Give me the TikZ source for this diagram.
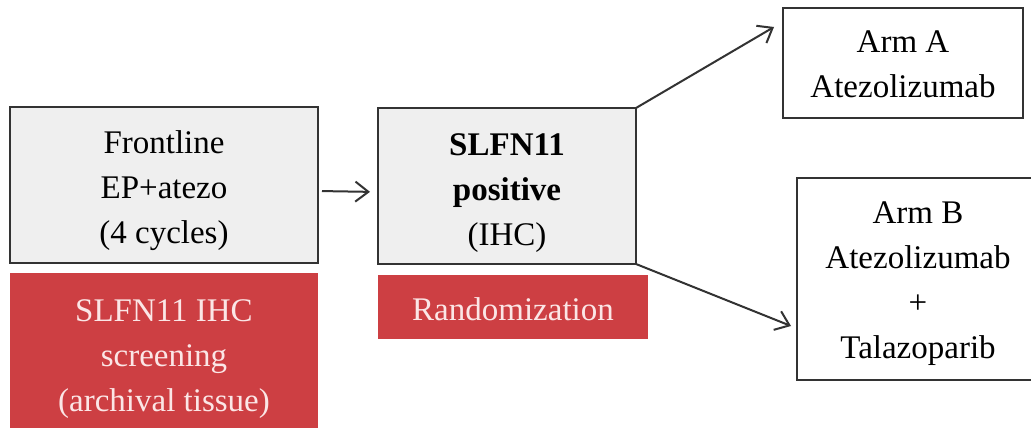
\documentclass[tikz,border=0pt]{standalone}
\usepackage{fontspec}
\setmainfont{Liberation Serif}
\usetikzlibrary{arrows.meta}
\definecolor{boxgray}{HTML}{EFEFEF}
\definecolor{boxred}{HTML}{CD3F43}
\definecolor{pinkwhite}{HTML}{FBE6E6}
\definecolor{edge}{HTML}{333333}
\begin{document}
\begin{tikzpicture}[x=1pt,y=-1pt,
  every node/.style={inner sep=0pt, outer sep=0pt, align=center,
    font=\fontsize{33}{45}\selectfont},
  boxnode/.style={anchor=north west},
  txt/.style={anchor=base},
  graybox/.style={boxnode, draw=edge, line width=2pt, fill=boxgray},
  whitebox/.style={boxnode, draw=edge, line width=2pt, fill=white},
  redbox/.style={boxnode, fill=boxred},
  redtxt/.style={txt, text=pinkwhite},
  arr/.style={draw=edge, line width=2pt, -{Straight Barb[length=13pt,width=20pt,line width=2pt]}}]
\useasboundingbox (0,0) rectangle (1031,428);
\clip (0,0) rectangle (1031,428);
\fill[white] (0,0) rectangle (1031,428);
% boxes
\node[graybox, minimum width=308pt, minimum height=156pt] (front) at (10,107) {};
\node[redbox, minimum width=308pt, minimum height=170pt] (screen) at (10,273) {};
\node[graybox, minimum width=258pt, minimum height=156pt] (slfn) at (378,108) {};
\node[redbox, minimum width=270pt, minimum height=64pt] (rand) at (378,275) {};
\node[whitebox, minimum width=240pt, minimum height=110pt] (armA) at (783,8) {};
\node[whitebox, minimum width=243pt, minimum height=202pt] (armB) at (797,178) {};
% texts
\node[txt] (fronttxt) at (164,243) {Frontline\\EP+atezo\\(4 cycles)};
\node[redtxt] (screentxt) at (164,411) {SLFN11 IHC\\screening\\(archival tissue)};
\node[txt] (slfntxt) at (507,245) {\textbf{SLFN11}\\\textbf{positive}\\(IHC)};
\node[redtxt] (randtxt) at (513,320) {Randomization};
\node[txt] (armAtxt) at (903,98) {Arm A\\Atezolizumab};
\node[txt] (armBtxt) at (918,358) {Arm B\\Atezolizumab\\+\\Talazoparib};
% connectors
\coordinate (tipA) at (774,27);
\coordinate (tipB) at (791,326);
\draw[arr, shorten <=4pt, shorten >=8pt] ([yshift=-6pt]front.east) -- ([yshift=-6pt]slfn.west);
\draw[arr] (slfn.north east) -- (tipA);
\draw[arr] (slfn.south east) -- (tipB);
\end{tikzpicture}
\end{document}
